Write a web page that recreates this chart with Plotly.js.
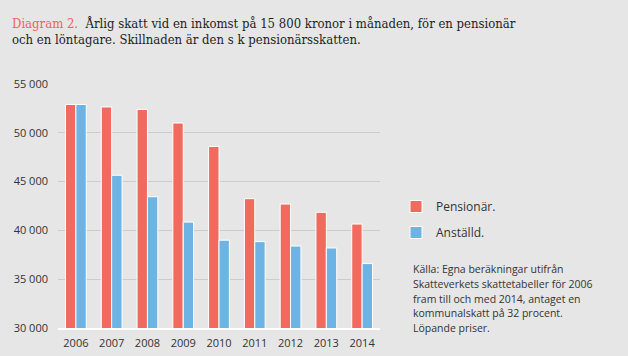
<!DOCTYPE html>
<html>
<head>
<meta charset="utf-8">
<script src="https://cdn.plot.ly/plotly-3.0.1.min.js"></script>
<style>html,body{margin:0;padding:0;background:#e6e6e6;}#chart{width:628px;height:356px;}</style>
</head>
<body>
<div id="chart"></div>
<script>
const years = ['2006','2007','2008','2009','2010','2011','2012','2013','2014'];
const pensionar = [52900, 52650, 52400, 51000, 48600, 43250, 42700, 41850, 40650];
const anstalld = [52900, 45650, 43450, 40850, 39000, 38850, 38400, 38200, 36600];
const seriesNames = ['Pensionär.', 'Anställd.'];
const yTicks = [30000, 35000, 40000, 45000, 50000, 55000];
const sourceLines = [
  'Källa: Egna beräkningar utifrån',
  'Skatteverkets skattetabeller för 2006',
  'fram till och med 2014, antaget en',
  'kommunalskatt på 32 procent.',
  'Löpande priser.'
];

const RED = '#f06a5d';
const BLUE = '#6db3e3';
const TXT = '#333333';
const FONT = '"Open Sans", sans-serif';

const traces = [
  {type:'bar', x: years, y: pensionar, name: seriesNames[0], legendgroup:'a',
   marker:{color: RED, line:{color:'#ffffff', width:1}}, hoverinfo:'y'},
  {type:'bar', x: years, y: anstalld, name: seriesNames[1], legendgroup:'b',
   marker:{color: BLUE, line:{color:'#ffffff', width:1}}, hoverinfo:'y'}
];

const annotations = sourceLines.map((t, i) => ({
  xref:'paper', yref:'paper', x: (411-58)/322, y: 1 - (260 + i*14.8 - 84)/244,
  xanchor:'left', yanchor:'top', showarrow:false, align:'left',
  text: t, font:{family: FONT, size: 10.5, color: TXT}
}));

const layout = {
  width: 628, height: 356,
  paper_bgcolor:'#e6e6e6', plot_bgcolor:'#e6e6e6',
  margin:{l:58, r:248, t:84, b:28, pad:0},
  separators:', ',
  barmode:'group', bargap:0.42, bargroupgap:0,
  title:{
    text:'<span style="color:#ee6452">Diagram 2.</span>&nbsp; Årlig skatt vid en inkomst på 15 800 kronor i månaden, för en pensionär<br>och en löntagare. Skillnaden är den s k pensionärsskatten.',
    font:{family:'"DejaVu Serif Condensed", "DejaVu Serif", serif', size:13, color:'#1e1e1e'},
    xref:'container', yref:'container', x: 12/628, xanchor:'left', y: 1 - 27.5/356, yanchor:'top'
  },
  xaxis:{
    type:'category', showgrid:false, zeroline:false,
    showline:true, linecolor:'#ffffff', linewidth:2,
    ticks:'', tickfont:{family: FONT, size:11, color: TXT},
    ticklabelstandoff: 4
  },
  yaxis:{
    range:[30000, 55000], tickvals: yTicks, tickformat:',d',
    showgrid:true, gridcolor:'#cccccc', gridwidth:1, zeroline:false,
    showline:false, ticks:'', tickfont:{family: FONT, size:11, color: TXT},
    ticklabelstandoff: 9
  },
  showlegend:true,
  legend:{
    xref:'container', yref:'container', x: 396/628, y: 1 - 192/356,
    xanchor:'left', yanchor:'top', traceorder:'grouped', tracegroupgap: 7,
    bgcolor:'rgba(0,0,0,0)', font:{family: FONT, size:12, color: TXT}
  },
  annotations: annotations,
  hovermode:false
};

Plotly.newPlot('chart', traces, layout, {displayModeBar:false, staticPlot:true});
</script>
</body>
</html>
